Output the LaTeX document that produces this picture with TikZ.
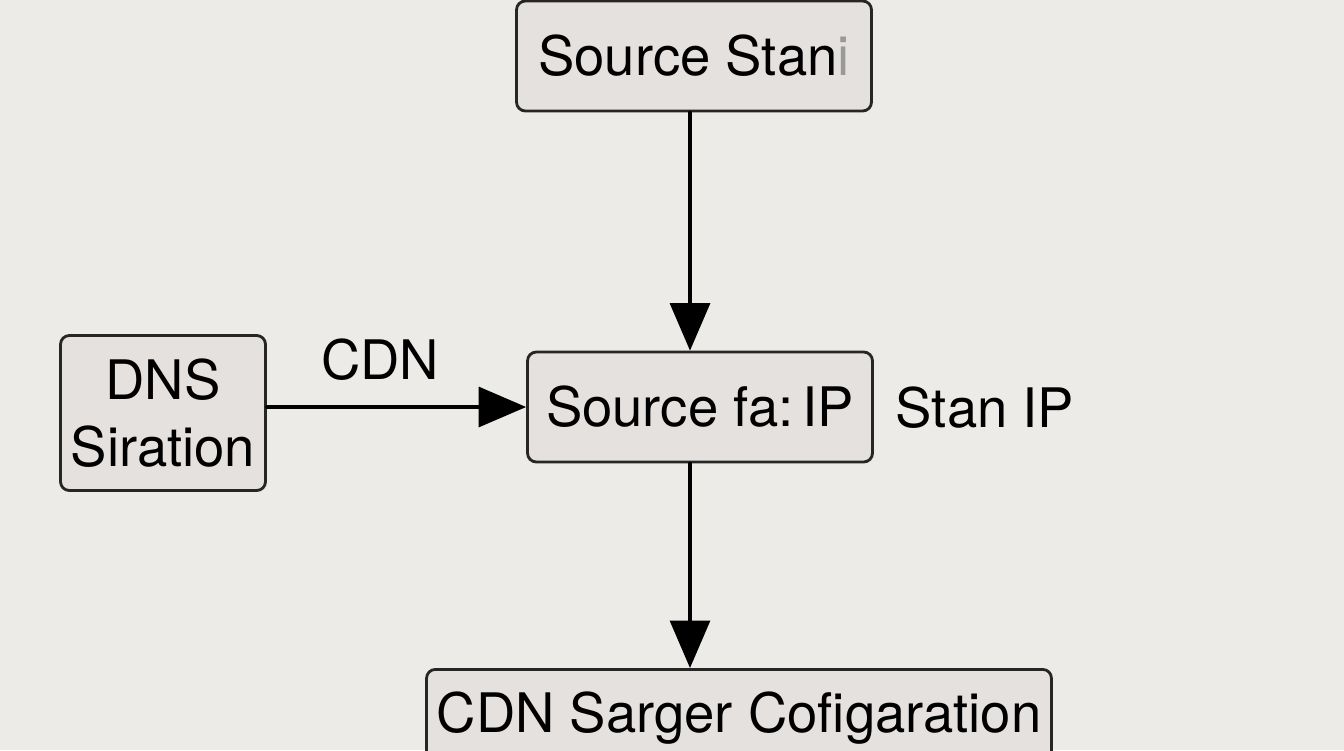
\documentclass[tikz,border=0pt]{standalone}
\usepackage{fontspec}
\setmainfont{TeX Gyre Heros}
\usetikzlibrary{arrows.meta}
\definecolor{paper}{HTML}{EDEBE7}
\definecolor{boxfill}{HTML}{E5E1DE}
\begin{document}
\begin{tikzpicture}[x=0.02cm,y=-0.02cm,line cap=round]
	\tikzstyle{blok}=[draw=black!85,fill=boxfill,line width=1.6pt,rounded corners=5pt,inner sep=0pt,font=\fontsize{31}{35}\selectfont];
	\tikzstyle{pijl}=[line width=1.8pt,-{Triangle[width=0.8cm,length=0.95cm]}];
	\tikzstyle{tekst}=[font=\fontsize{31}{35}\selectfont];
	\useasboundingbox[fill=paper] (0,0) rectangle (1344,750);

	\node[blok,minimum width=7.1cm,minimum height=2.2cm] (bron) at (694,56) {Source Stan\raisebox{0pt}{\color{black!40}i}};
	\node[blok,minimum width=6.9cm,minimum height=2.2cm] (ip) at (700,407) {Source fa:\,IP};
	\node[blok,minimum width=4.1cm,minimum height=3.1cm,align=center,
	      font=\fontsize{31}{38}\selectfont] (dns) at (163,413) {DNS\\Siration};
	\node[blok,minimum width=12.5cm,minimum height=2.8cm,anchor=north] (cdn) at (739,668) {};
	\node[tekst] at (739,718) {CDN Sarger Cofigaration};

	\node[tekst] (lcdn) at (380,360) {CDN};
	\node[tekst] (lstan) at (985,408) {Stan IP};

	\draw[pijl] (bron.south -| 690,0) -- (ip.north -| 690,0);
	\draw[pijl] (ip.south -| 690,0) -- (cdn.north -| 690,0);
	\draw[pijl] (dns.east |- 0,407) -- (ip.west |- 0,407);
\end{tikzpicture}
\end{document}
